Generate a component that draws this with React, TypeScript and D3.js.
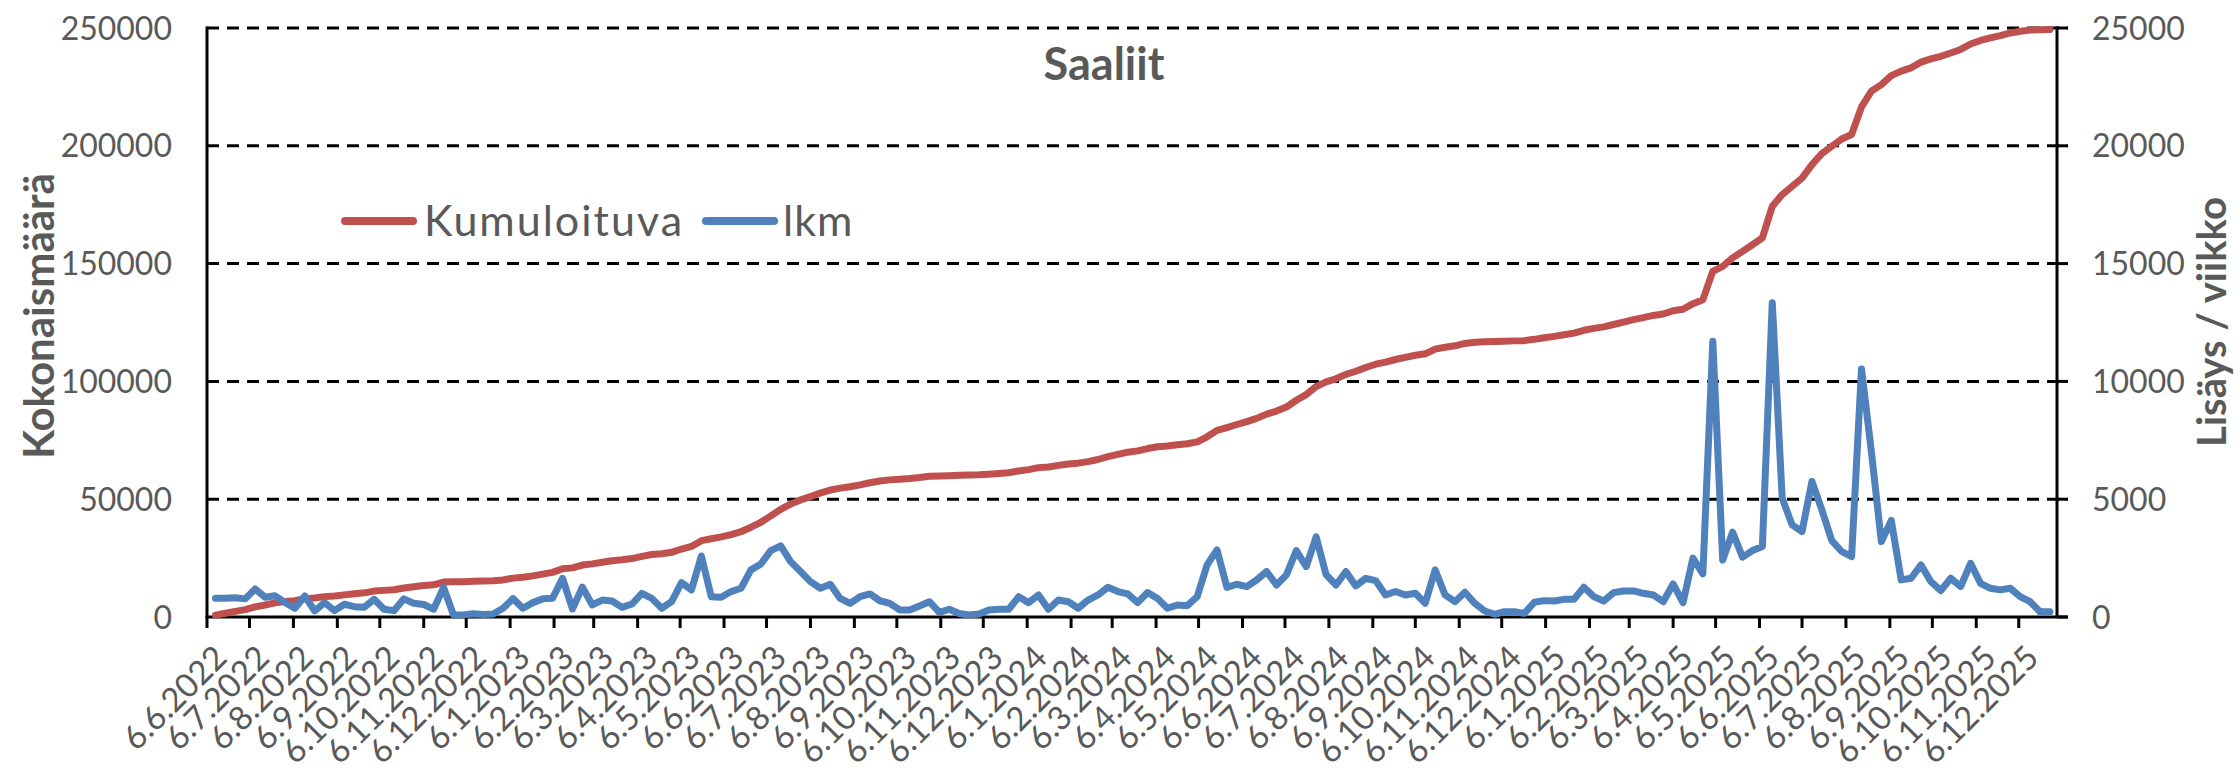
import React from "react";
import * as d3 from "d3";

// Weekly series, starting Monday 6.6.2022
const weeklyCount: number[] = [
  800, 800, 820, 770, 1190, 840, 900, 620, 370, 890,
  260, 610, 270, 540, 440, 410, 750, 330, 270, 770,
  580, 530, 330, 1250, 90, 90, 140, 110, 130, 370,
  780, 370, 610, 770, 800, 1640, 340, 1270, 510, 720,
  680, 410, 550, 1000, 790, 370, 650, 1460, 1150, 2590,
  860, 840, 1080, 1220, 2000, 2250, 2820, 3020, 2350, 1930,
  1500, 1220, 1390, 790, 580, 860, 980, 690, 580, 300,
  300, 470, 650, 200, 330, 150, 85, 130, 300, 330,
  330, 860, 610, 935, 330, 720, 650, 370, 720, 935,
  1260, 1080, 980, 610, 1040, 790, 370, 510, 480, 860,
  2210, 2850, 1260, 1390, 1290, 1570, 1930, 1360, 1790, 2820,
  2140, 3400, 1800, 1360, 1930, 1320, 1640, 1545, 935, 1080,
  935, 1005, 580, 2000, 935, 650, 1050, 580, 255, 115,
  225, 225, 155, 625, 695, 680, 750, 750, 1260, 865,
  680, 1035, 1105, 1105, 1005, 935, 650, 1400, 610, 2500,
  1830, 11700, 2420, 3600, 2540, 2820, 2990, 13340, 5045, 3910,
  3630, 5750, 4550, 3245, 2780, 2565, 10530, 7000, 3200, 4100,
  1575, 1645, 2210, 1500, 1120, 1645, 1290, 2280, 1430, 1220,
  1150, 1220, 865, 650, 225, 225,
];

const cumulative: number[] = [
  800, 1600, 2400, 3150, 4300, 5100, 6000, 6600, 6950, 7800,
  8050, 8650, 8900, 9400, 9850, 10250, 11000, 11300, 11550, 12300,
  12850, 13350, 13650, 14850, 14950, 15000, 15150, 15250, 15400, 15750,
  16500, 16850, 17450, 18200, 18950, 20500, 20850, 22050, 22550, 23250,
  23900, 24300, 24800, 25750, 26500, 26850, 27450, 28850, 29950, 32400,
  33200, 34000, 35000, 36200, 38100, 40200, 42900, 45700, 47900, 49700,
  51100, 52600, 53900, 54700, 55300, 56100, 57000, 57700, 58200, 58500,
  58800, 59200, 59700, 59850, 60000, 60150, 60250, 60350, 60600, 60900,
  61200, 62000, 62550, 63400, 63700, 64350, 64950, 65300, 65950, 66850,
  68050, 69050, 69950, 70500, 71500, 72250, 72600, 73100, 73550, 74350,
  76500, 79200, 80400, 81700, 82900, 84300, 86100, 87400, 89100, 92000,
  94400, 97800, 99800, 101100, 103000, 104300, 105900, 107300, 108200, 109300,
  110200, 111100, 111700, 113700, 114500, 115100, 116100, 116600, 116800, 116900,
  117050, 117200, 117300, 117850, 118500, 119100, 119800, 120500, 121700, 122500,
  123150, 124150, 125200, 126200, 127100, 128000, 128600, 130000, 130600, 133000,
  134700, 146700, 148800, 152400, 155200, 158000, 160900, 174300, 179300, 182800,
  186300, 192000, 196700, 199800, 202900, 204800, 216500, 223200, 226000, 229800,
  231700, 233100, 235500, 236900, 238000, 239400, 240900, 243200, 244700, 245800,
  246800, 247900, 248600, 249100, 249300, 249400,
];

const leftTicks: number[] = [0, 50000, 100000, 150000, 200000, 250000];
const rightTicks: number[] = [0, 5000, 10000, 15000, 20000, 25000];

const chartTitle = "Saaliit";
const leftTitle = "Kokonaismäärä";
const rightTitle = "Lisäys / viikko";
const seriesNames = ["Kumuloituva", "lkm"];

const W = 2240;
const H = 771;
const M = { left: 207, right: 2057, top: 28, bottom: 617 };
const FONT = "Lato, 'Open Sans', sans-serif";
const GREY = "#595959";
const RED = "#C0504D";
const BLUE = "#4F81BD";

const start = new Date(Date.UTC(2022, 5, 6));
const axisEnd = d3.utcDay.offset(start, 1306);
const weeks = d3.utcWeek.range(start, d3.utcDay.offset(start, 7 * weeklyCount.length)).slice(0, weeklyCount.length);
const monthTicks = d3.range(0, 43).map((k) => d3.utcMonth.offset(start, k));
const fmt = d3.utcFormat("%-d.%-m.%Y");

export default function App() {
  const x = d3.scaleUtc().domain([start, axisEnd]).range([M.left, M.right]);
  const yL = d3.scaleLinear().domain([0, 250000]).range([M.bottom, M.top]);
  const yR = d3.scaleLinear().domain([0, 25000]).range([M.bottom, M.top]);

  const redLine = d3
    .line<number>()
    .x((_, i) => x(weeks[i]))
    .y((d) => yL(d));
  const blueLine = d3
    .line<number>()
    .x((_, i) => x(weeks[i]))
    .y((d) => yR(d));

  return (
    <svg
      width={W}
      height={H}
      viewBox={`0 0 ${W} ${H}`}
      style={{ position: "absolute", left: 0, top: 0, background: "#fff" }}
      fontFamily={FONT}
    >
      <rect x={0} y={0} width={W} height={H} fill="#fff" />
      {/* gridlines */}
      {leftTicks
        .filter((t) => t > 0)
        .map((t) => (
          <line
            key={"g" + t}
            x1={M.left}
            x2={M.right + 11}
            y1={yL(t)}
            y2={yL(t)}
            stroke="#000"
            strokeWidth={3}
            strokeDasharray="12,8"
          />
        ))}
      {/* left tick labels */}
      {leftTicks.map((t) => (
        <text
          key={"l" + t}
          x={172}
          y={yL(t)}
          dy="0.36em"
          textAnchor="end"
          fontSize={32}
          fill={GREY}
        >
          {t}
        </text>
      ))}
      {/* right tick marks + labels */}
      {rightTicks.map((t) => (
        <g key={"r" + t}>
          <line x1={M.right} x2={M.right + 11} y1={yR(t)} y2={yR(t)} stroke="#000" strokeWidth={3} />
          <text x={2092} y={yR(t)} dy="0.36em" textAnchor="start" fontSize={32} fill={GREY}>
            {t}
          </text>
        </g>
      ))}
      {/* x ticks and labels */}
      {monthTicks.map((d) => {
        const px = x(d);
        return (
          <g key={"x" + d.getTime()}>
            <line x1={px} x2={px} y1={M.bottom} y2={M.bottom + 11} stroke="#000" strokeWidth={3} />
            <text
              transform={`translate(${px + 5},${643}) rotate(-45)`}
              textAnchor="end"
              dy="0.72em"
              fontSize={33}
              fill={GREY}
            >
              {fmt(d)}
            </text>
          </g>
        );
      })}
      {/* axes */}
      <line x1={M.left} x2={M.left} y1={M.top - 1.5} y2={M.bottom} stroke="#000" strokeWidth={3} />
      <line x1={M.right} x2={M.right} y1={M.top - 1.5} y2={M.bottom} stroke="#000" strokeWidth={3} />
      <line x1={M.left - 1.5} x2={M.right + 11} y1={M.bottom} y2={M.bottom} stroke="#000" strokeWidth={3} />
      {/* series */}
      <path
        d={redLine(cumulative) || ""}
        fill="none"
        stroke={RED}
        strokeWidth={7}
        strokeLinejoin="round"
        strokeLinecap="round"
      />
      <path
        d={blueLine(weeklyCount) || ""}
        fill="none"
        stroke={BLUE}
        strokeWidth={7}
        strokeLinejoin="round"
        strokeLinecap="round"
      />
      {/* title */}
      <text x={1104} y={80} textAnchor="middle" fontSize={45} fontWeight="bold" fill={GREY}>
        {chartTitle}
      </text>
      {/* legend */}
      <line x1={345} x2={413} y1={221} y2={221} stroke={RED} strokeWidth={8} strokeLinecap="round" />
      <text x={424} y={221} dy="0.36em" fontSize={43} letterSpacing={2} fill={GREY}>
        {seriesNames[0]}
      </text>
      <line x1={706} x2={774} y1={221} y2={221} stroke={BLUE} strokeWidth={8} strokeLinecap="round" />
      <text x={783} y={221} dy="0.36em" fontSize={43} letterSpacing={1} fill={GREY}>
        {seriesNames[1]}
      </text>
      {/* axis titles */}
      <text
        transform={`translate(39,${316}) rotate(-90)`}
        textAnchor="middle"
        dy="0.36em"
        fontSize={42}
        fontWeight="bold"
        fill={GREY}
      >
        {leftTitle}
      </text>
      <text
        transform={`translate(2212,${322}) rotate(-90)`}
        textAnchor="middle"
        dy="0.36em"
        fontSize={40}
        fontWeight="bold"
        fill={GREY}
      >
        {rightTitle}
      </text>
    </svg>
  );
}
